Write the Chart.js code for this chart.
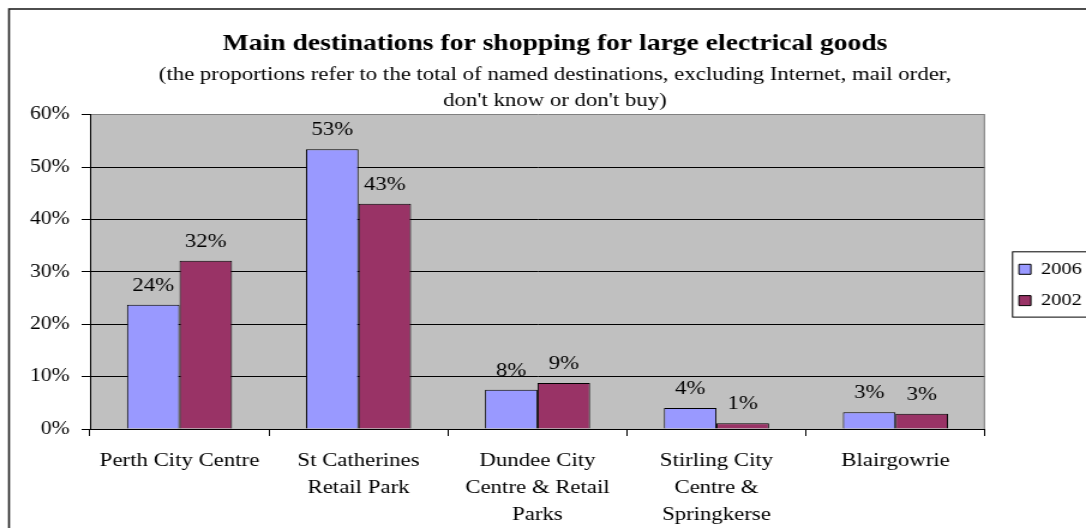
<!DOCTYPE html>
<html>
<head>
<meta charset="utf-8">
<script src="https://cdn.jsdelivr.net/npm/chart.js@4/dist/chart.umd.min.js"></script>
<style>
html,body{margin:0;padding:0;background:#fff;}
</style>
</head>
<body>
<canvas id="c" width="905" height="528" style="display:block;width:1086px;height:528px;"></canvas>
<script>
const categories = [
  ['Perth City Centre'],
  ['St Catherines', 'Retail Park'],
  ['Dundee City', 'Centre & Retail', 'Parks'],
  ['Stirling City', 'Centre &', 'Springkerse'],
  ['Blairgowrie']
];
const seriesNames = ['2006', '2002'];
const values2006 = [23.7, 53.4, 7.5, 4.0, 3.2];
const values2002 = [32.1, 43.0, 8.8, 1.1, 2.9];
const yTicks = [0, 10, 20, 30, 40, 50, 60];
const titleText = 'Main destinations for shopping for large electrical goods';
const subtitleLines = [
  '(the proportions refer to the total of named destinations, excluding Internet, mail order,',
  "don't know or don't buy)"
];

const FONT = '"Liberation Serif", "Times New Roman", serif';

const bgPlugin = {
  id: 'bgPlugin',
  beforeDraw(chart) {
    const ctx = chart.ctx, a = chart.chartArea;
    ctx.save();
    ctx.fillStyle = '#ffffff';
    ctx.fillRect(0, 0, chart.width, chart.height);
    ctx.fillStyle = '#C0C0C0';
    ctx.fillRect(a.left, a.top, a.right - a.left, a.bottom - a.top);
    ctx.restore();
  },
  beforeDatasetsDraw(chart) {
    const ctx = chart.ctx, a = chart.chartArea;
    ctx.save();
    ctx.strokeStyle = '#808080';
    ctx.lineWidth = 1;
    ctx.beginPath();
    ctx.moveTo(a.right - 0.5, a.top);
    ctx.lineTo(a.right - 0.5, a.bottom);
    ctx.stroke();
    ctx.restore();
  },
  afterDatasetsDraw(chart) {
    const ctx = chart.ctx;
    ctx.save();
    ctx.font = '19px ' + FONT;
    ctx.fillStyle = '#000';
    ctx.textAlign = 'center';
    ctx.textBaseline = 'alphabetic';
    chart.data.datasets.forEach((ds, i) => {
      chart.getDatasetMeta(i).data.forEach((bar, j) => {
        ctx.fillText(Math.round(ds.data[j]) + '%', bar.x, bar.y - 14);
      });
    });
    ctx.restore();
  },
  afterDraw(chart) {
    const ctx = chart.ctx;
    ctx.save();
    const hb = chart.legend && chart.legend.legendHitBoxes;
    if (hb && hb.length) {
      const first = hb[0], last = hb[hb.length - 1];
      const top = first.top + first.height / 2 - 18;
      const bottom = last.top + last.height / 2 + 16;
      const left = first.left - 5.8;
      ctx.strokeStyle = '#000';
      ctx.lineWidth = 1;
      ctx.strokeRect(left + 0.5, top + 0.5, chart.width + 20 - left, bottom - top);
    }
    ctx.strokeStyle = '#222';
    ctx.lineWidth = 1.6;
    ctx.strokeRect(7.5, 9, chart.width + 50, chart.height + 50);
    ctx.restore();
  }
};

new Chart(document.getElementById('c'), {
  type: 'bar',
  data: {
    labels: categories,
    datasets: [
      { label: seriesNames[0], data: values2006, backgroundColor: '#9999FF', borderColor: '#000', borderWidth: 1, yAxisID: 'y' },
      { label: seriesNames[1], data: values2002, backgroundColor: '#993366', borderColor: '#000', borderWidth: 1, yAxisID: 'y' }
    ]
  },
  options: {
    responsive: false,
    devicePixelRatio: 1,
    animation: false,
    categoryPercentage: 0.587,
    barPercentage: 1.0,
    layout: { padding: { left: 20, right: 0, top: 0, bottom: 0 } },
    plugins: {
      tooltip: { enabled: false },
      title: {
        display: true,
        text: titleText,
        color: '#000',
        font: { family: FONT, size: 23, weight: 'bold', lineHeight: 1.2 },
        padding: { top: 30, bottom: 0 }
      },
      subtitle: {
        display: true,
        text: subtitleLines,
        color: '#000',
        font: { family: FONT, size: 19, lineHeight: 1.39 },
        padding: { top: 4.2, bottom: 0 }
      },
      legend: {
        display: true,
        position: 'right',
        align: 'center',
        fullSize: false,
        maxWidth: 70.2,
        title: { display: true, text: '', font: { size: 10, lineHeight: 1.2 }, padding: 7.15 },
        labels: {
          boxWidth: 10,
          boxHeight: 10,
          padding: 14.3,
          color: '#000',
          font: { family: FONT, size: 17 }
        }
      }
    },
    scales: {
      x: {
        offset: true,
        grid: { display: true, drawOnChartArea: false, drawTicks: true, tickLength: 7, tickColor: '#000', offset: true },
        border: { display: true, color: '#000', width: 1 },
        ticks: {
          autoSkip: false, maxRotation: 0, minRotation: 0, padding: 12,
          color: '#000',
          font: { family: FONT, size: 19, lineHeight: 1.42 }
        },
        afterFit(s) { s.height = 99; }
      },
      y: {
        min: yTicks[0],
        max: yTicks[yTicks.length - 1],
        afterBuildTicks(s) { s.ticks = yTicks.map(v => ({ value: v })); },
        grid: {
          color: c => (c.tick && c.tick.value === 60) ? '#808080' : '#000',
          tickColor: '#000',
          tickLength: 7,
          drawTicks: true,
          lineWidth: 1
        },
        border: { display: true, color: '#000', width: 1 },
        ticks: {
          padding: 10,
          color: '#000',
          font: { family: FONT, size: 18 },
          callback: v => v + '%'
        },
        afterFit(s) { s.width = 55; }
      },
      gap: {
        type: 'linear',
        position: 'right',
        display: true,
        grid: { display: false },
        ticks: { display: false },
        border: { display: false },
        afterFit(s) { s.width = 14; }
      }
    }
  },
  plugins: [bgPlugin]
});
</script>
</body>
</html>
